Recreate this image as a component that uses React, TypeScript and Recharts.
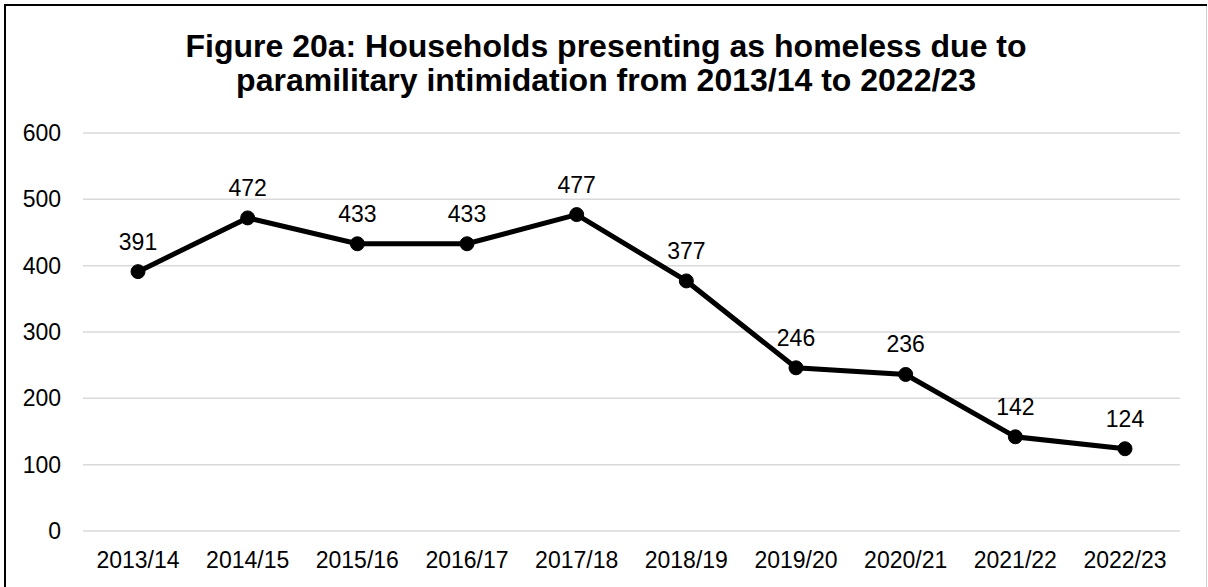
import { LineChart, Line, XAxis, YAxis, CartesianGrid, LabelList } from "recharts";

const YEARS = [
  "2013/14", "2014/15", "2015/16", "2016/17", "2017/18",
  "2018/19", "2019/20", "2020/21", "2021/22", "2022/23",
];
const HOUSEHOLDS = [391, 472, 433, 433, 477, 377, 246, 236, 142, 124];
const Y_TICKS = [0, 100, 200, 300, 400, 500, 600];

const FONT = '"Liberation Sans", Arial, sans-serif';

const data = YEARS.map((year, i) => ({ year, households: HOUSEHOLDS[i] }));

export default function App() {
  return (
    <div
      style={{
        position: "absolute",
        left: 0,
        top: 0,
        width: 1208,
        height: 587,
        background: "#fff",
        fontFamily: FONT,
        overflow: "hidden",
      }}
    >
      {/* frame: black top/left, light grey right, no bottom */}
      <div style={{ position: "absolute", left: 4, top: 4, width: 2, height: 583, background: "#000" }} />
      <div style={{ position: "absolute", left: 4, top: 4, width: 1203, height: 2, background: "#000" }} />
      <div style={{ position: "absolute", left: 1206, top: 6, width: 1, height: 581, background: "#d0d0d0" }} />

      <div
        style={{
          position: "absolute",
          left: 4,
          top: 29,
          width: 1204,
          textAlign: "center",
          fontSize: 32,
          fontWeight: 700,
          lineHeight: "34px",
          color: "#000",
        }}
      >
        Figure 20a: Households presenting as homeless due to
        <br />
        paramilitary intimidation from 2013/14 to 2022/23
      </div>

      <div style={{ position: "absolute", left: 0, top: 0 }}>
        <LineChart
          width={1208}
          height={587}
          data={data}
          margin={{ top: 133, right: 28, bottom: 0, left: 0 }}
        >
          <CartesianGrid horizontal vertical={false} stroke="#d9d9d9" strokeWidth={1.5} />
          <XAxis
            dataKey="year"
            height={56}
            padding={{ left: 55, right: 55 }}
            axisLine={false}
            tickLine={false}
            tickSize={0}
            tickMargin={21}
            interval={0}
            tick={{ fontSize: 23, fill: "#000", fontFamily: FONT }}
          />
          <YAxis
            domain={[0, 600]}
            ticks={Y_TICKS}
            width={83}
            axisLine={false}
            tickLine={false}
            tickSize={0}
            tickMargin={22}
            tick={{ fontSize: 23, fill: "#000", fontFamily: FONT }}
          />
          <Line
            dataKey="households"
            stroke="#000"
            strokeWidth={5}
            dot={{ r: 7, fill: "#000", stroke: "#000", strokeWidth: 1 }}
            isAnimationActive={false}
          >
            <LabelList
              dataKey="households"
              position="top"
              offset={22}
              style={{ fontSize: 23, fill: "#000", fontFamily: FONT }}
            />
          </Line>
        </LineChart>
      </div>
    </div>
  );
}
